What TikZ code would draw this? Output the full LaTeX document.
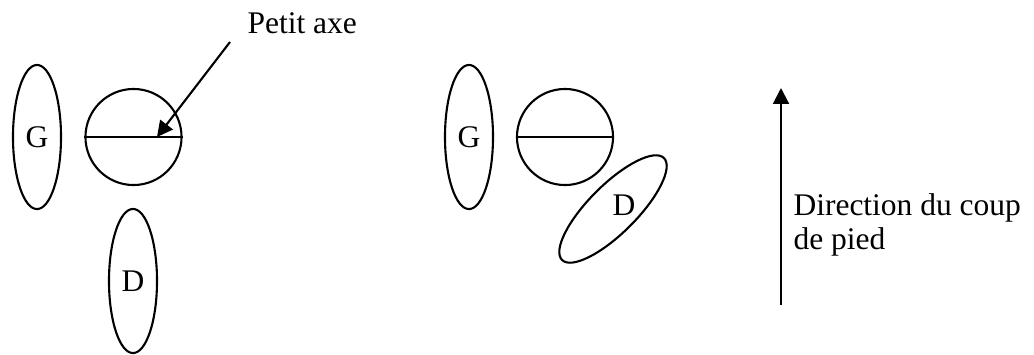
\documentclass[tikz,border=0pt]{standalone}
\usepackage{fontspec}
\setmainfont{Liberation Serif}
\usetikzlibrary{arrows.meta, shapes.geometric, calc}
\tikzset{
  foot/.style={ellipse, draw=black, line width=0.8pt, inner sep=0pt,
               minimum width=18.3pt, minimum height=54.9pt, font=\fontsize{12}{14}\selectfont},
  ball/.style={circle, draw=black, line width=0.8pt, inner sep=0pt, minimum size=36.6pt},
  footlabel/.style={font=\fontsize{12}{14}\selectfont, inner sep=0pt},
  caption/.style={font=\fontsize{12}{14}\selectfont, inner sep=0pt, anchor=base west},
  axis/.style={line width=0.8pt, draw=black},
  flow/.style={-{Triangle[length=6pt, width=6pt]}, line width=0.8pt, draw=black},
}

\begin{document}
\begin{tikzpicture}[x=0.381pt, y=-0.381pt]
\useasboundingbox (0,0) rectangle (1034,354);

% Left stance: D foot behind the ball
\node[foot] (lg) at (37,137) {G};
\node[ball] (lball) at (133.5,137) {};
\node[foot] (ld) at (133,281) {D};
\draw[axis] (lball.west) -- (lball.east);

% Middle stance: D foot turned beside the ball
\node[foot] (mg) at (469,137) {G};
\node[ball] (mball) at (565,137) {};
\draw[axis] (mball.west) -- (mball.east);
\node[foot, rotate=-45] (md) at (613,209) {};
\node[footlabel] (mdlabel) at ($(md.center)+(11,-4)$) {D};

% Label of the axis
\node[caption] (axelabel) at (247,33) {Petit axe};
\coordinate (axetail) at (230,42);
\coordinate (axetip) at ($(lball.center)+(23.5,0)$);
\draw[flow] (axetail) -- (axetip);

% Kick direction
\coordinate (kickfrom) at (781,305);
\coordinate (kickto) at (781,88);
\draw[flow] (kickfrom) -- (kickto);
\node[caption] (dir1) at (793,215) {Direction du coup};
\node[caption] (dir2) at (793,249) {de pied};

\end{tikzpicture}
\end{document}
